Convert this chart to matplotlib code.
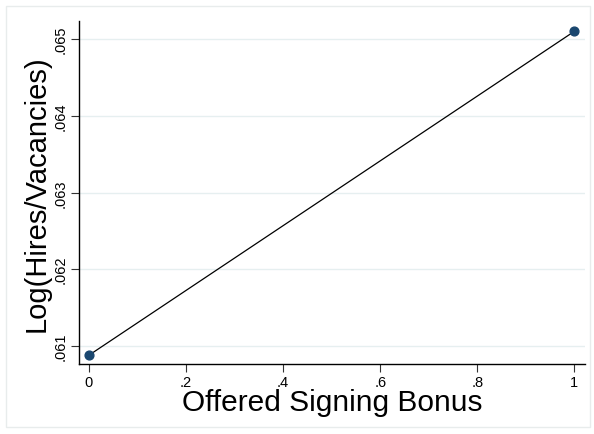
import matplotlib
matplotlib.use("Agg")
import matplotlib.pyplot as plt
from matplotlib.patches import Rectangle

# dati
bonus = [0, 1]
log_hires_vac = [0.06088, 0.06510]
x_ticks = [0, 0.2, 0.4, 0.6, 0.8, 1]
x_labels = ["0", ".2", ".4", ".6", ".8", "1"]
y_ticks = [0.061, 0.062, 0.063, 0.064, 0.065]
y_labels = [".061", ".062", ".063", ".064", ".065"]

plt.rcParams['font.family'] = ['Liberation Sans', 'DejaVu Sans']

fig = plt.figure(figsize=(5.94, 4.35), dpi=100)
fig.patch.set_facecolor("white")
# cornice esterna stile Stata
fig.patches.append(Rectangle((6/594, 7/435), 584/594, 421/435, transform=fig.transFigure,
                             fill=False, edgecolor="#e8ecec", linewidth=1))

ax = fig.add_axes([79/594, 70/435, 506/594, 343/435])
ax.plot(bonus, log_hires_vac, color="black", linewidth=0.9, zorder=2)
ax.scatter(bonus, log_hires_vac, color="#1a476f", s=40, zorder=3)

ax.set_xlim(-0.0206, 1.022)
ax.set_ylim(0.060765, 0.065235)
ax.set_xticks(x_ticks)
ax.set_xticklabels(x_labels, fontsize=10.5)
ax.set_yticks(y_ticks)
ax.set_yticklabels(y_labels, fontsize=10.5, rotation=90, va="center")
ax.grid(axis="y", color="#e6eff0", linewidth=1)
ax.set_axisbelow(True)
for s in ["top", "right"]:
    ax.spines[s].set_visible(False)
ax.spines["left"].set_linewidth(1)
ax.spines["bottom"].set_linewidth(1)
ax.tick_params(axis="both", length=6, color="#333333", pad=2)

ax.set_xlabel("Offered Signing Bonus", fontsize=21.5, labelpad=-1)
ax.set_ylabel("Log(Hires/Vacancies)", fontsize=21, labelpad=2)

fig.savefig("out.png", dpi=100)
